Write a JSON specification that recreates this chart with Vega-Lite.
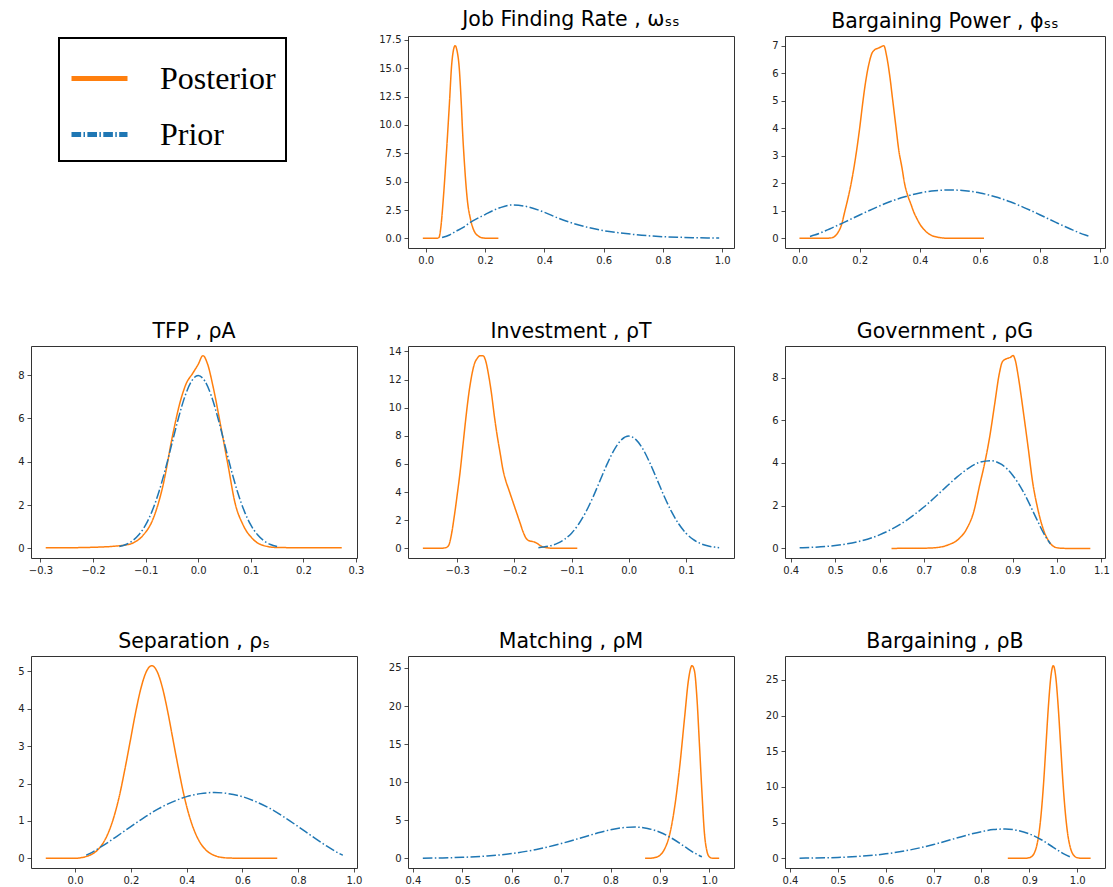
{
  "$schema": "https://vega.github.io/schema/vega-lite/v6.json",
  "padding": {"left": 17, "top": 9, "right": 5, "bottom": 2},
  "columns": 3,
  "bounds": "flush",
  "spacing": {"row": 98, "column": 51},
  "config": {
    "font": "DejaVu Sans",
    "view": {"stroke": "#333", "strokeWidth": 1},
    "title": {"font": "DejaVu Sans", "fontSize": 20.5, "fontWeight": "normal", "color": "#000", "offset": 4},
    "axis": {"domain": false, "grid": false, "tickSize": 4, "tickColor": "#222", "tickWidth": 0.8, "labelFont": "DejaVu Sans", "labelFontSize": 10, "labelColor": "#222", "labelPadding": 3, "labelFlush": false, "labelOverlap": false},
    "legend": {"orient": "none", "legendX": 28, "legendY": 2, "labelFont": "Liberation Serif", "labelFontSize": 32, "labelColor": "#000", "labelOffset": 30, "symbolType": "stroke", "symbolSize": 3136, "symbolStrokeWidth": 5, "padding": 10, "rowPadding": 9, "strokeColor": "#000", "fillColor": "#fff"}
  },
  "datasets": {
    "curves": [
      {"panel": "jfr", "series": "Posterior", "x": -0.01, "y": 0},
      {"panel": "jfr", "series": "Posterior", "x": 0.02, "y": 0},
      {"panel": "jfr", "series": "Posterior", "x": 0.04, "y": 0.02},
      {"panel": "jfr", "series": "Posterior", "x": 0.045, "y": 0.1},
      {"panel": "jfr", "series": "Posterior", "x": 0.05, "y": 0.8},
      {"panel": "jfr", "series": "Posterior", "x": 0.06, "y": 3.8},
      {"panel": "jfr", "series": "Posterior", "x": 0.07, "y": 7.7},
      {"panel": "jfr", "series": "Posterior", "x": 0.08, "y": 12},
      {"panel": "jfr", "series": "Posterior", "x": 0.087, "y": 15.2},
      {"panel": "jfr", "series": "Posterior", "x": 0.092, "y": 16.4},
      {"panel": "jfr", "series": "Posterior", "x": 0.099, "y": 17.0},
      {"panel": "jfr", "series": "Posterior", "x": 0.105, "y": 16.6},
      {"panel": "jfr", "series": "Posterior", "x": 0.113, "y": 15.0},
      {"panel": "jfr", "series": "Posterior", "x": 0.12, "y": 11.8},
      {"panel": "jfr", "series": "Posterior", "x": 0.124, "y": 9.5},
      {"panel": "jfr", "series": "Posterior", "x": 0.13, "y": 6.8},
      {"panel": "jfr", "series": "Posterior", "x": 0.141, "y": 3.2},
      {"panel": "jfr", "series": "Posterior", "x": 0.15, "y": 1.8},
      {"panel": "jfr", "series": "Posterior", "x": 0.164, "y": 0.6},
      {"panel": "jfr", "series": "Posterior", "x": 0.175, "y": 0.25},
      {"panel": "jfr", "series": "Posterior", "x": 0.186, "y": 0.08},
      {"panel": "jfr", "series": "Posterior", "x": 0.2, "y": 0.02},
      {"panel": "jfr", "series": "Posterior", "x": 0.245, "y": 0},
      {"panel": "jfr", "series": "Prior", "x": 0.055, "y": 0.08},
      {"panel": "jfr", "series": "Prior", "x": 0.08, "y": 0.3},
      {"panel": "jfr", "series": "Prior", "x": 0.1, "y": 0.6},
      {"panel": "jfr", "series": "Prior", "x": 0.125, "y": 0.95},
      {"panel": "jfr", "series": "Prior", "x": 0.15, "y": 1.4},
      {"panel": "jfr", "series": "Prior", "x": 0.2, "y": 2.1},
      {"panel": "jfr", "series": "Prior", "x": 0.25, "y": 2.7},
      {"panel": "jfr", "series": "Prior", "x": 0.29, "y": 2.95},
      {"panel": "jfr", "series": "Prior", "x": 0.35, "y": 2.75},
      {"panel": "jfr", "series": "Prior", "x": 0.4, "y": 2.3},
      {"panel": "jfr", "series": "Prior", "x": 0.45, "y": 1.75},
      {"panel": "jfr", "series": "Prior", "x": 0.5, "y": 1.3},
      {"panel": "jfr", "series": "Prior", "x": 0.55, "y": 0.95},
      {"panel": "jfr", "series": "Prior", "x": 0.6, "y": 0.68},
      {"panel": "jfr", "series": "Prior", "x": 0.65, "y": 0.5},
      {"panel": "jfr", "series": "Prior", "x": 0.7, "y": 0.35},
      {"panel": "jfr", "series": "Prior", "x": 0.75, "y": 0.23},
      {"panel": "jfr", "series": "Prior", "x": 0.8, "y": 0.15},
      {"panel": "jfr", "series": "Prior", "x": 0.85, "y": 0.1},
      {"panel": "jfr", "series": "Prior", "x": 0.9, "y": 0.06},
      {"panel": "jfr", "series": "Prior", "x": 0.95, "y": 0.04},
      {"panel": "jfr", "series": "Prior", "x": 0.99, "y": 0.03},

      {"panel": "bp", "series": "Posterior", "x": 0.0, "y": 0},
      {"panel": "bp", "series": "Posterior", "x": 0.05, "y": 0},
      {"panel": "bp", "series": "Posterior", "x": 0.1, "y": 0.01},
      {"panel": "bp", "series": "Posterior", "x": 0.11, "y": 0.03},
      {"panel": "bp", "series": "Posterior", "x": 0.12, "y": 0.1},
      {"panel": "bp", "series": "Posterior", "x": 0.13, "y": 0.25},
      {"panel": "bp", "series": "Posterior", "x": 0.14, "y": 0.5},
      {"panel": "bp", "series": "Posterior", "x": 0.15, "y": 0.95},
      {"panel": "bp", "series": "Posterior", "x": 0.16, "y": 1.4},
      {"panel": "bp", "series": "Posterior", "x": 0.17, "y": 1.9},
      {"panel": "bp", "series": "Posterior", "x": 0.18, "y": 2.5},
      {"panel": "bp", "series": "Posterior", "x": 0.19, "y": 3.2},
      {"panel": "bp", "series": "Posterior", "x": 0.2, "y": 4.0},
      {"panel": "bp", "series": "Posterior", "x": 0.21, "y": 4.9},
      {"panel": "bp", "series": "Posterior", "x": 0.22, "y": 5.7},
      {"panel": "bp", "series": "Posterior", "x": 0.23, "y": 6.3},
      {"panel": "bp", "series": "Posterior", "x": 0.24, "y": 6.7},
      {"panel": "bp", "series": "Posterior", "x": 0.25, "y": 6.85},
      {"panel": "bp", "series": "Posterior", "x": 0.26, "y": 6.9},
      {"panel": "bp", "series": "Posterior", "x": 0.27, "y": 6.95},
      {"panel": "bp", "series": "Posterior", "x": 0.28, "y": 7.0},
      {"panel": "bp", "series": "Posterior", "x": 0.29, "y": 6.6},
      {"panel": "bp", "series": "Posterior", "x": 0.3, "y": 5.9},
      {"panel": "bp", "series": "Posterior", "x": 0.31, "y": 5.0},
      {"panel": "bp", "series": "Posterior", "x": 0.32, "y": 4.1},
      {"panel": "bp", "series": "Posterior", "x": 0.33, "y": 3.2},
      {"panel": "bp", "series": "Posterior", "x": 0.34, "y": 2.6},
      {"panel": "bp", "series": "Posterior", "x": 0.35, "y": 1.95},
      {"panel": "bp", "series": "Posterior", "x": 0.36, "y": 1.55},
      {"panel": "bp", "series": "Posterior", "x": 0.37, "y": 1.25},
      {"panel": "bp", "series": "Posterior", "x": 0.38, "y": 0.95},
      {"panel": "bp", "series": "Posterior", "x": 0.39, "y": 0.72},
      {"panel": "bp", "series": "Posterior", "x": 0.4, "y": 0.52},
      {"panel": "bp", "series": "Posterior", "x": 0.42, "y": 0.25},
      {"panel": "bp", "series": "Posterior", "x": 0.44, "y": 0.1},
      {"panel": "bp", "series": "Posterior", "x": 0.46, "y": 0.04},
      {"panel": "bp", "series": "Posterior", "x": 0.48, "y": 0.01},
      {"panel": "bp", "series": "Posterior", "x": 0.5, "y": 0},
      {"panel": "bp", "series": "Posterior", "x": 0.613, "y": 0},
      {"panel": "bp", "series": "Prior", "x": 0.035, "y": 0.07},
      {"panel": "bp", "series": "Prior", "x": 0.05, "y": 0.12},
      {"panel": "bp", "series": "Prior", "x": 0.1, "y": 0.34},
      {"panel": "bp", "series": "Prior", "x": 0.15, "y": 0.59},
      {"panel": "bp", "series": "Prior", "x": 0.2, "y": 0.85},
      {"panel": "bp", "series": "Prior", "x": 0.25, "y": 1.1},
      {"panel": "bp", "series": "Prior", "x": 0.3, "y": 1.33},
      {"panel": "bp", "series": "Prior", "x": 0.35, "y": 1.51},
      {"panel": "bp", "series": "Prior", "x": 0.4, "y": 1.65},
      {"panel": "bp", "series": "Prior", "x": 0.45, "y": 1.73},
      {"panel": "bp", "series": "Prior", "x": 0.5, "y": 1.76},
      {"panel": "bp", "series": "Prior", "x": 0.55, "y": 1.73},
      {"panel": "bp", "series": "Prior", "x": 0.6, "y": 1.65},
      {"panel": "bp", "series": "Prior", "x": 0.65, "y": 1.51},
      {"panel": "bp", "series": "Prior", "x": 0.7, "y": 1.33},
      {"panel": "bp", "series": "Prior", "x": 0.75, "y": 1.1},
      {"panel": "bp", "series": "Prior", "x": 0.8, "y": 0.85},
      {"panel": "bp", "series": "Prior", "x": 0.85, "y": 0.59},
      {"panel": "bp", "series": "Prior", "x": 0.9, "y": 0.34},
      {"panel": "bp", "series": "Prior", "x": 0.95, "y": 0.12},
      {"panel": "bp", "series": "Prior", "x": 0.965, "y": 0.07},

      {"panel": "tfp", "series": "Posterior", "x": -0.29, "y": 0.03},
      {"panel": "tfp", "series": "Posterior", "x": -0.25, "y": 0.03},
      {"panel": "tfp", "series": "Posterior", "x": -0.2, "y": 0.05},
      {"panel": "tfp", "series": "Posterior", "x": -0.17, "y": 0.08},
      {"panel": "tfp", "series": "Posterior", "x": -0.15, "y": 0.12},
      {"panel": "tfp", "series": "Posterior", "x": -0.137, "y": 0.16},
      {"panel": "tfp", "series": "Posterior", "x": -0.124, "y": 0.25},
      {"panel": "tfp", "series": "Posterior", "x": -0.105, "y": 0.6},
      {"panel": "tfp", "series": "Posterior", "x": -0.086, "y": 1.35},
      {"panel": "tfp", "series": "Posterior", "x": -0.067, "y": 2.9},
      {"panel": "tfp", "series": "Posterior", "x": -0.048, "y": 5.3},
      {"panel": "tfp", "series": "Posterior", "x": -0.035, "y": 6.7},
      {"panel": "tfp", "series": "Posterior", "x": -0.023, "y": 7.6},
      {"panel": "tfp", "series": "Posterior", "x": -0.01, "y": 8.1},
      {"panel": "tfp", "series": "Posterior", "x": 0.0, "y": 8.5},
      {"panel": "tfp", "series": "Posterior", "x": 0.009, "y": 8.9},
      {"panel": "tfp", "series": "Posterior", "x": 0.018, "y": 8.5},
      {"panel": "tfp", "series": "Posterior", "x": 0.028, "y": 7.5},
      {"panel": "tfp", "series": "Posterior", "x": 0.044, "y": 5.5},
      {"panel": "tfp", "series": "Posterior", "x": 0.057, "y": 3.8},
      {"panel": "tfp", "series": "Posterior", "x": 0.07, "y": 2.1},
      {"panel": "tfp", "series": "Posterior", "x": 0.085, "y": 1.1},
      {"panel": "tfp", "series": "Posterior", "x": 0.104, "y": 0.43},
      {"panel": "tfp", "series": "Posterior", "x": 0.123, "y": 0.14},
      {"panel": "tfp", "series": "Posterior", "x": 0.149, "y": 0.04},
      {"panel": "tfp", "series": "Posterior", "x": 0.2, "y": 0.03},
      {"panel": "tfp", "series": "Posterior", "x": 0.273, "y": 0.03},
      {"panel": "tfp", "series": "Prior", "x": -0.15, "y": 0.09},
      {"panel": "tfp", "series": "Prior", "x": -0.1375, "y": 0.18},
      {"panel": "tfp", "series": "Prior", "x": -0.125, "y": 0.35},
      {"panel": "tfp", "series": "Prior", "x": -0.1125, "y": 0.64},
      {"panel": "tfp", "series": "Prior", "x": -0.1, "y": 1.08},
      {"panel": "tfp", "series": "Prior", "x": -0.0875, "y": 1.73},
      {"panel": "tfp", "series": "Prior", "x": -0.075, "y": 2.59},
      {"panel": "tfp", "series": "Prior", "x": -0.0625, "y": 3.65},
      {"panel": "tfp", "series": "Prior", "x": -0.05, "y": 4.84},
      {"panel": "tfp", "series": "Prior", "x": -0.0375, "y": 6.02},
      {"panel": "tfp", "series": "Prior", "x": -0.025, "y": 7.04},
      {"panel": "tfp", "series": "Prior", "x": -0.0125, "y": 7.73},
      {"panel": "tfp", "series": "Prior", "x": 0.0, "y": 7.98},
      {"panel": "tfp", "series": "Prior", "x": 0.0125, "y": 7.73},
      {"panel": "tfp", "series": "Prior", "x": 0.025, "y": 7.04},
      {"panel": "tfp", "series": "Prior", "x": 0.0375, "y": 6.02},
      {"panel": "tfp", "series": "Prior", "x": 0.05, "y": 4.84},
      {"panel": "tfp", "series": "Prior", "x": 0.0625, "y": 3.65},
      {"panel": "tfp", "series": "Prior", "x": 0.075, "y": 2.59},
      {"panel": "tfp", "series": "Prior", "x": 0.0875, "y": 1.73},
      {"panel": "tfp", "series": "Prior", "x": 0.1, "y": 1.08},
      {"panel": "tfp", "series": "Prior", "x": 0.1125, "y": 0.64},
      {"panel": "tfp", "series": "Prior", "x": 0.125, "y": 0.35},
      {"panel": "tfp", "series": "Prior", "x": 0.1375, "y": 0.18},
      {"panel": "tfp", "series": "Prior", "x": 0.15, "y": 0.09},

      {"panel": "inv", "series": "Posterior", "x": -0.36, "y": 0},
      {"panel": "inv", "series": "Posterior", "x": -0.33, "y": 0},
      {"panel": "inv", "series": "Posterior", "x": -0.32, "y": 0.05},
      {"panel": "inv", "series": "Posterior", "x": -0.315, "y": 0.2},
      {"panel": "inv", "series": "Posterior", "x": -0.31, "y": 1.0},
      {"panel": "inv", "series": "Posterior", "x": -0.305, "y": 2.3},
      {"panel": "inv", "series": "Posterior", "x": -0.3, "y": 3.8},
      {"panel": "inv", "series": "Posterior", "x": -0.295, "y": 5.4},
      {"panel": "inv", "series": "Posterior", "x": -0.29, "y": 7.3},
      {"panel": "inv", "series": "Posterior", "x": -0.285, "y": 9.2},
      {"panel": "inv", "series": "Posterior", "x": -0.28, "y": 10.9},
      {"panel": "inv", "series": "Posterior", "x": -0.275, "y": 12.2},
      {"panel": "inv", "series": "Posterior", "x": -0.27, "y": 13.1},
      {"panel": "inv", "series": "Posterior", "x": -0.265, "y": 13.5},
      {"panel": "inv", "series": "Posterior", "x": -0.26, "y": 13.7},
      {"panel": "inv", "series": "Posterior", "x": -0.255, "y": 13.7},
      {"panel": "inv", "series": "Posterior", "x": -0.25, "y": 13.3},
      {"panel": "inv", "series": "Posterior", "x": -0.245, "y": 12.3},
      {"panel": "inv", "series": "Posterior", "x": -0.24, "y": 11.0},
      {"panel": "inv", "series": "Posterior", "x": -0.235, "y": 9.4},
      {"panel": "inv", "series": "Posterior", "x": -0.23, "y": 8.0},
      {"panel": "inv", "series": "Posterior", "x": -0.225, "y": 6.8},
      {"panel": "inv", "series": "Posterior", "x": -0.22, "y": 5.6},
      {"panel": "inv", "series": "Posterior", "x": -0.215, "y": 4.8},
      {"panel": "inv", "series": "Posterior", "x": -0.21, "y": 4.2},
      {"panel": "inv", "series": "Posterior", "x": -0.205, "y": 3.6},
      {"panel": "inv", "series": "Posterior", "x": -0.2, "y": 3.0},
      {"panel": "inv", "series": "Posterior", "x": -0.195, "y": 2.4},
      {"panel": "inv", "series": "Posterior", "x": -0.19, "y": 1.8},
      {"panel": "inv", "series": "Posterior", "x": -0.185, "y": 1.2},
      {"panel": "inv", "series": "Posterior", "x": -0.18, "y": 0.75},
      {"panel": "inv", "series": "Posterior", "x": -0.175, "y": 0.55},
      {"panel": "inv", "series": "Posterior", "x": -0.17, "y": 0.5},
      {"panel": "inv", "series": "Posterior", "x": -0.165, "y": 0.45},
      {"panel": "inv", "series": "Posterior", "x": -0.16, "y": 0.35},
      {"panel": "inv", "series": "Posterior", "x": -0.155, "y": 0.2},
      {"panel": "inv", "series": "Posterior", "x": -0.15, "y": 0.1},
      {"panel": "inv", "series": "Posterior", "x": -0.14, "y": 0.03},
      {"panel": "inv", "series": "Posterior", "x": -0.13, "y": 0},
      {"panel": "inv", "series": "Posterior", "x": -0.09, "y": 0},
      {"panel": "inv", "series": "Prior", "x": -0.158, "y": 0.05},
      {"panel": "inv", "series": "Prior", "x": -0.15, "y": 0.09},
      {"panel": "inv", "series": "Prior", "x": -0.1375, "y": 0.18},
      {"panel": "inv", "series": "Prior", "x": -0.125, "y": 0.35},
      {"panel": "inv", "series": "Prior", "x": -0.1125, "y": 0.64},
      {"panel": "inv", "series": "Prior", "x": -0.1, "y": 1.08},
      {"panel": "inv", "series": "Prior", "x": -0.0875, "y": 1.73},
      {"panel": "inv", "series": "Prior", "x": -0.075, "y": 2.59},
      {"panel": "inv", "series": "Prior", "x": -0.0625, "y": 3.65},
      {"panel": "inv", "series": "Prior", "x": -0.05, "y": 4.84},
      {"panel": "inv", "series": "Prior", "x": -0.0375, "y": 6.02},
      {"panel": "inv", "series": "Prior", "x": -0.025, "y": 7.04},
      {"panel": "inv", "series": "Prior", "x": -0.0125, "y": 7.73},
      {"panel": "inv", "series": "Prior", "x": 0.0, "y": 7.98},
      {"panel": "inv", "series": "Prior", "x": 0.0125, "y": 7.73},
      {"panel": "inv", "series": "Prior", "x": 0.025, "y": 7.04},
      {"panel": "inv", "series": "Prior", "x": 0.0375, "y": 6.02},
      {"panel": "inv", "series": "Prior", "x": 0.05, "y": 4.84},
      {"panel": "inv", "series": "Prior", "x": 0.0625, "y": 3.65},
      {"panel": "inv", "series": "Prior", "x": 0.075, "y": 2.59},
      {"panel": "inv", "series": "Prior", "x": 0.0875, "y": 1.73},
      {"panel": "inv", "series": "Prior", "x": 0.1, "y": 1.08},
      {"panel": "inv", "series": "Prior", "x": 0.1125, "y": 0.64},
      {"panel": "inv", "series": "Prior", "x": 0.125, "y": 0.35},
      {"panel": "inv", "series": "Prior", "x": 0.1375, "y": 0.18},
      {"panel": "inv", "series": "Prior", "x": 0.15, "y": 0.09},
      {"panel": "inv", "series": "Prior", "x": 0.158, "y": 0.05},

      {"panel": "gov", "series": "Posterior", "x": 0.627, "y": 0},
      {"panel": "gov", "series": "Posterior", "x": 0.7, "y": 0.01},
      {"panel": "gov", "series": "Posterior", "x": 0.725, "y": 0.03},
      {"panel": "gov", "series": "Posterior", "x": 0.754, "y": 0.16},
      {"panel": "gov", "series": "Posterior", "x": 0.776, "y": 0.4},
      {"panel": "gov", "series": "Posterior", "x": 0.797, "y": 0.94},
      {"panel": "gov", "series": "Posterior", "x": 0.812, "y": 1.7},
      {"panel": "gov", "series": "Posterior", "x": 0.826, "y": 3.0},
      {"panel": "gov", "series": "Posterior", "x": 0.837, "y": 4.0},
      {"panel": "gov", "series": "Posterior", "x": 0.848, "y": 5.2},
      {"panel": "gov", "series": "Posterior", "x": 0.859, "y": 6.7},
      {"panel": "gov", "series": "Posterior", "x": 0.87, "y": 8.2},
      {"panel": "gov", "series": "Posterior", "x": 0.877, "y": 8.75},
      {"panel": "gov", "series": "Posterior", "x": 0.888, "y": 8.9},
      {"panel": "gov", "series": "Posterior", "x": 0.895, "y": 8.95},
      {"panel": "gov", "series": "Posterior", "x": 0.901, "y": 9.03},
      {"panel": "gov", "series": "Posterior", "x": 0.906, "y": 8.8},
      {"panel": "gov", "series": "Posterior", "x": 0.913, "y": 8.0},
      {"panel": "gov", "series": "Posterior", "x": 0.924, "y": 6.4},
      {"panel": "gov", "series": "Posterior", "x": 0.935, "y": 4.7},
      {"panel": "gov", "series": "Posterior", "x": 0.945, "y": 3.1},
      {"panel": "gov", "series": "Posterior", "x": 0.956, "y": 1.9},
      {"panel": "gov", "series": "Posterior", "x": 0.971, "y": 0.78},
      {"panel": "gov", "series": "Posterior", "x": 0.985, "y": 0.23},
      {"panel": "gov", "series": "Posterior", "x": 1.0, "y": 0.03},
      {"panel": "gov", "series": "Posterior", "x": 1.02, "y": 0},
      {"panel": "gov", "series": "Posterior", "x": 1.075, "y": 0},
      {"panel": "gov", "series": "Prior", "x": 0.42, "y": 0.026},
      {"panel": "gov", "series": "Prior", "x": 0.45, "y": 0.051},
      {"panel": "gov", "series": "Prior", "x": 0.5, "y": 0.133},
      {"panel": "gov", "series": "Prior", "x": 0.55, "y": 0.308},
      {"panel": "gov", "series": "Prior", "x": 0.6, "y": 0.634},
      {"panel": "gov", "series": "Prior", "x": 0.65, "y": 1.17},
      {"panel": "gov", "series": "Prior", "x": 0.7, "y": 1.94},
      {"panel": "gov", "series": "Prior", "x": 0.75, "y": 2.88},
      {"panel": "gov", "series": "Prior", "x": 0.775, "y": 3.35},
      {"panel": "gov", "series": "Prior", "x": 0.8, "y": 3.75},
      {"panel": "gov", "series": "Prior", "x": 0.825, "y": 4.03},
      {"panel": "gov", "series": "Prior", "x": 0.85, "y": 4.11},
      {"panel": "gov", "series": "Prior", "x": 0.875, "y": 3.93},
      {"panel": "gov", "series": "Prior", "x": 0.9, "y": 3.43},
      {"panel": "gov", "series": "Prior", "x": 0.925, "y": 2.61},
      {"panel": "gov", "series": "Prior", "x": 0.95, "y": 1.55},
      {"panel": "gov", "series": "Prior", "x": 0.97, "y": 0.7},
      {"panel": "gov", "series": "Prior", "x": 0.985, "y": 0.21},

      {"panel": "sep", "series": "Posterior", "x": -0.105, "y": 0},
      {"panel": "sep", "series": "Posterior", "x": 0.0, "y": 0.003},
      {"panel": "sep", "series": "Posterior", "x": 0.0425, "y": 0.057},
      {"panel": "sep", "series": "Posterior", "x": 0.081, "y": 0.226},
      {"panel": "sep", "series": "Posterior", "x": 0.1006, "y": 0.41},
      {"panel": "sep", "series": "Posterior", "x": 0.12, "y": 0.697},
      {"panel": "sep", "series": "Posterior", "x": 0.1394, "y": 1.11},
      {"panel": "sep", "series": "Posterior", "x": 0.159, "y": 1.67},
      {"panel": "sep", "series": "Posterior", "x": 0.1781, "y": 2.36},
      {"panel": "sep", "series": "Posterior", "x": 0.1975, "y": 3.12},
      {"panel": "sep", "series": "Posterior", "x": 0.2169, "y": 3.89},
      {"panel": "sep", "series": "Posterior", "x": 0.236, "y": 4.54},
      {"panel": "sep", "series": "Posterior", "x": 0.2556, "y": 4.99},
      {"panel": "sep", "series": "Posterior", "x": 0.275, "y": 5.15},
      {"panel": "sep", "series": "Posterior", "x": 0.2944, "y": 4.99},
      {"panel": "sep", "series": "Posterior", "x": 0.314, "y": 4.54},
      {"panel": "sep", "series": "Posterior", "x": 0.3331, "y": 3.89},
      {"panel": "sep", "series": "Posterior", "x": 0.3525, "y": 3.12},
      {"panel": "sep", "series": "Posterior", "x": 0.3719, "y": 2.36},
      {"panel": "sep", "series": "Posterior", "x": 0.391, "y": 1.67},
      {"panel": "sep", "series": "Posterior", "x": 0.4106, "y": 1.11},
      {"panel": "sep", "series": "Posterior", "x": 0.43, "y": 0.697},
      {"panel": "sep", "series": "Posterior", "x": 0.4494, "y": 0.41},
      {"panel": "sep", "series": "Posterior", "x": 0.469, "y": 0.226},
      {"panel": "sep", "series": "Posterior", "x": 0.5075, "y": 0.057},
      {"panel": "sep", "series": "Posterior", "x": 0.546, "y": 0.011},
      {"panel": "sep", "series": "Posterior", "x": 0.6, "y": 0.002},
      {"panel": "sep", "series": "Posterior", "x": 0.725, "y": 0},
      {"panel": "sep", "series": "Prior", "x": 0.04, "y": 0.084},
      {"panel": "sep", "series": "Prior", "x": 0.05, "y": 0.12},
      {"panel": "sep", "series": "Prior", "x": 0.1, "y": 0.34},
      {"panel": "sep", "series": "Prior", "x": 0.15, "y": 0.59},
      {"panel": "sep", "series": "Prior", "x": 0.2, "y": 0.85},
      {"panel": "sep", "series": "Prior", "x": 0.25, "y": 1.1},
      {"panel": "sep", "series": "Prior", "x": 0.3, "y": 1.33},
      {"panel": "sep", "series": "Prior", "x": 0.35, "y": 1.51},
      {"panel": "sep", "series": "Prior", "x": 0.4, "y": 1.65},
      {"panel": "sep", "series": "Prior", "x": 0.45, "y": 1.73},
      {"panel": "sep", "series": "Prior", "x": 0.5, "y": 1.76},
      {"panel": "sep", "series": "Prior", "x": 0.55, "y": 1.73},
      {"panel": "sep", "series": "Prior", "x": 0.6, "y": 1.65},
      {"panel": "sep", "series": "Prior", "x": 0.65, "y": 1.51},
      {"panel": "sep", "series": "Prior", "x": 0.7, "y": 1.33},
      {"panel": "sep", "series": "Prior", "x": 0.75, "y": 1.1},
      {"panel": "sep", "series": "Prior", "x": 0.8, "y": 0.85},
      {"panel": "sep", "series": "Prior", "x": 0.85, "y": 0.59},
      {"panel": "sep", "series": "Prior", "x": 0.9, "y": 0.34},
      {"panel": "sep", "series": "Prior", "x": 0.95, "y": 0.12},
      {"panel": "sep", "series": "Prior", "x": 0.96, "y": 0.084},

      {"panel": "match", "series": "Posterior", "x": 0.87, "y": 0},
      {"panel": "match", "series": "Posterior", "x": 0.88, "y": 0.02},
      {"panel": "match", "series": "Posterior", "x": 0.89, "y": 0.1},
      {"panel": "match", "series": "Posterior", "x": 0.9, "y": 0.4},
      {"panel": "match", "series": "Posterior", "x": 0.91, "y": 1.3},
      {"panel": "match", "series": "Posterior", "x": 0.92, "y": 3.2},
      {"panel": "match", "series": "Posterior", "x": 0.93, "y": 6.8},
      {"panel": "match", "series": "Posterior", "x": 0.94, "y": 12.0},
      {"panel": "match", "series": "Posterior", "x": 0.95, "y": 18.5},
      {"panel": "match", "series": "Posterior", "x": 0.958, "y": 23.5},
      {"panel": "match", "series": "Posterior", "x": 0.965, "y": 25.3},
      {"panel": "match", "series": "Posterior", "x": 0.97, "y": 24.6},
      {"panel": "match", "series": "Posterior", "x": 0.975, "y": 21.0},
      {"panel": "match", "series": "Posterior", "x": 0.98, "y": 15.0},
      {"panel": "match", "series": "Posterior", "x": 0.985, "y": 8.8},
      {"panel": "match", "series": "Posterior", "x": 0.99, "y": 3.4},
      {"panel": "match", "series": "Posterior", "x": 0.995, "y": 1.0},
      {"panel": "match", "series": "Posterior", "x": 1.0, "y": 0.2},
      {"panel": "match", "series": "Posterior", "x": 1.005, "y": 0.03},
      {"panel": "match", "series": "Posterior", "x": 1.01, "y": 0},
      {"panel": "match", "series": "Posterior", "x": 1.02, "y": 0},
      {"panel": "match", "series": "Prior", "x": 0.42, "y": 0.026},
      {"panel": "match", "series": "Prior", "x": 0.45, "y": 0.051},
      {"panel": "match", "series": "Prior", "x": 0.5, "y": 0.133},
      {"panel": "match", "series": "Prior", "x": 0.55, "y": 0.308},
      {"panel": "match", "series": "Prior", "x": 0.6, "y": 0.634},
      {"panel": "match", "series": "Prior", "x": 0.65, "y": 1.17},
      {"panel": "match", "series": "Prior", "x": 0.7, "y": 1.94},
      {"panel": "match", "series": "Prior", "x": 0.75, "y": 2.88},
      {"panel": "match", "series": "Prior", "x": 0.775, "y": 3.35},
      {"panel": "match", "series": "Prior", "x": 0.8, "y": 3.75},
      {"panel": "match", "series": "Prior", "x": 0.825, "y": 4.03},
      {"panel": "match", "series": "Prior", "x": 0.85, "y": 4.11},
      {"panel": "match", "series": "Prior", "x": 0.875, "y": 3.93},
      {"panel": "match", "series": "Prior", "x": 0.9, "y": 3.43},
      {"panel": "match", "series": "Prior", "x": 0.925, "y": 2.61},
      {"panel": "match", "series": "Prior", "x": 0.95, "y": 1.55},
      {"panel": "match", "series": "Prior", "x": 0.97, "y": 0.7},
      {"panel": "match", "series": "Prior", "x": 0.985, "y": 0.21},

      {"panel": "barg", "series": "Posterior", "x": 0.855, "y": 0},
      {"panel": "barg", "series": "Posterior", "x": 0.88, "y": 0},
      {"panel": "barg", "series": "Posterior", "x": 0.89, "y": 0.01},
      {"panel": "barg", "series": "Posterior", "x": 0.9, "y": 0.09},
      {"panel": "barg", "series": "Posterior", "x": 0.905, "y": 0.27},
      {"panel": "barg", "series": "Posterior", "x": 0.91, "y": 0.7},
      {"panel": "barg", "series": "Posterior", "x": 0.915, "y": 1.66},
      {"panel": "barg", "series": "Posterior", "x": 0.92, "y": 3.47},
      {"panel": "barg", "series": "Posterior", "x": 0.925, "y": 6.5},
      {"panel": "barg", "series": "Posterior", "x": 0.93, "y": 10.8},
      {"panel": "barg", "series": "Posterior", "x": 0.935, "y": 16.2},
      {"panel": "barg", "series": "Posterior", "x": 0.94, "y": 21.5},
      {"panel": "barg", "series": "Posterior", "x": 0.945, "y": 25.5},
      {"panel": "barg", "series": "Posterior", "x": 0.95, "y": 27.0},
      {"panel": "barg", "series": "Posterior", "x": 0.955, "y": 25.5},
      {"panel": "barg", "series": "Posterior", "x": 0.96, "y": 21.5},
      {"panel": "barg", "series": "Posterior", "x": 0.965, "y": 16.2},
      {"panel": "barg", "series": "Posterior", "x": 0.97, "y": 10.8},
      {"panel": "barg", "series": "Posterior", "x": 0.975, "y": 6.5},
      {"panel": "barg", "series": "Posterior", "x": 0.98, "y": 3.47},
      {"panel": "barg", "series": "Posterior", "x": 0.985, "y": 1.66},
      {"panel": "barg", "series": "Posterior", "x": 0.99, "y": 0.7},
      {"panel": "barg", "series": "Posterior", "x": 0.995, "y": 0.27},
      {"panel": "barg", "series": "Posterior", "x": 1.0, "y": 0.09},
      {"panel": "barg", "series": "Posterior", "x": 1.01, "y": 0.01},
      {"panel": "barg", "series": "Posterior", "x": 1.028, "y": 0},
      {"panel": "barg", "series": "Prior", "x": 0.42, "y": 0.026},
      {"panel": "barg", "series": "Prior", "x": 0.45, "y": 0.051},
      {"panel": "barg", "series": "Prior", "x": 0.5, "y": 0.133},
      {"panel": "barg", "series": "Prior", "x": 0.55, "y": 0.308},
      {"panel": "barg", "series": "Prior", "x": 0.6, "y": 0.634},
      {"panel": "barg", "series": "Prior", "x": 0.65, "y": 1.17},
      {"panel": "barg", "series": "Prior", "x": 0.7, "y": 1.94},
      {"panel": "barg", "series": "Prior", "x": 0.75, "y": 2.88},
      {"panel": "barg", "series": "Prior", "x": 0.775, "y": 3.35},
      {"panel": "barg", "series": "Prior", "x": 0.8, "y": 3.75},
      {"panel": "barg", "series": "Prior", "x": 0.825, "y": 4.03},
      {"panel": "barg", "series": "Prior", "x": 0.85, "y": 4.11},
      {"panel": "barg", "series": "Prior", "x": 0.875, "y": 3.93},
      {"panel": "barg", "series": "Prior", "x": 0.9, "y": 3.43},
      {"panel": "barg", "series": "Prior", "x": 0.925, "y": 2.61},
      {"panel": "barg", "series": "Prior", "x": 0.95, "y": 1.55},
      {"panel": "barg", "series": "Prior", "x": 0.97, "y": 0.7},
      {"panel": "barg", "series": "Prior", "x": 0.985, "y": 0.21}
    ]
  },
  "concat": [
    {
      "width": 326, "height": 212,
      "view": {"stroke": null},
      "data": {"name": "curves"},
      "transform": [{"filter": "datum.panel === 'none'"}],
      "mark": {"type": "point", "opacity": 0},
      "encoding": {}
    },
    {
      "title": "Job Finding Rate , ωₛₛ",
      "width": 326, "height": 212,
      "data": {"name": "curves"},
      "transform": [{"filter": "datum.panel === 'jfr'"}],
      "mark": {"type": "line", "strokeWidth": 1.5, "interpolate": "monotone"},
      "encoding": {
        "x": {"field": "x", "type": "quantitative", "title": null, "scale": {"domain": [-0.06, 1.04], "nice": false, "zero": false}, "axis": {"values": [0, 0.2, 0.4, 0.6, 0.8, 1.0], "format": ".1f"}},
        "y": {"field": "y", "type": "quantitative", "title": null, "scale": {"domain": [-0.85, 17.85], "nice": false, "zero": false}, "axis": {"values": [0, 2.5, 5, 7.5, 10, 12.5, 15, 17.5], "format": ".1f"}},
        "color": {"field": "series", "type": "nominal", "title": null, "scale": {"domain": ["Posterior", "Prior"], "range": ["#ff7f0e", "#1f77b4"]},
          "legend": {"encoding": {"symbols": {"stroke": {"value": {"expr": "datum.value === 'Posterior' ? '#ED7D31' : '#4472C4'"}}, "strokeDash": {"value": {"expr": "datum.value === 'Posterior' ? [1, 0] : [17, 13, 6, 13]"}}, "strokeWidth": {"value": 5}}, "legend": {"strokeWidth": {"value": 2}}}}},
        "strokeDash": {"field": "series", "type": "nominal", "title": null, "scale": {"domain": ["Posterior", "Prior"], "range": [[1, 0], [9.6, 2.4, 1.5, 2.4]]},
          "legend": {"encoding": {"symbols": {"stroke": {"value": {"expr": "datum.value === 'Posterior' ? '#ED7D31' : '#4472C4'"}}, "strokeDash": {"value": {"expr": "datum.value === 'Posterior' ? [1, 0] : [17, 13, 6, 13]"}}, "strokeWidth": {"value": 5}}, "legend": {"strokeWidth": {"value": 2}}}}}
      }
    },
    {
      "title": "Bargaining Power , ϕₛₛ",
      "width": 320, "height": 212,
      "data": {"name": "curves"},
      "transform": [{"filter": "datum.panel === 'bp'"}],
      "mark": {"type": "line", "strokeWidth": 1.5, "interpolate": "monotone"},
      "encoding": {
        "x": {"field": "x", "type": "quantitative", "title": null, "scale": {"domain": [-0.048, 1.015], "nice": false, "zero": false}, "axis": {"values": [0, 0.2, 0.4, 0.6, 0.8, 1.0], "format": ".1f"}},
        "y": {"field": "y", "type": "quantitative", "title": null, "scale": {"domain": [-0.35, 7.35], "nice": false, "zero": false}, "axis": {"values": [0, 1, 2, 3, 4, 5, 6, 7], "format": "d"}},
        "color": {"field": "series", "type": "nominal", "title": null, "scale": {"domain": ["Posterior", "Prior"], "range": ["#ff7f0e", "#1f77b4"]}},
        "strokeDash": {"field": "series", "type": "nominal", "title": null, "scale": {"domain": ["Posterior", "Prior"], "range": [[1, 0], [9.6, 2.4, 1.5, 2.4]]}}
      }
    },
    {
      "title": "TFP , ρA",
      "width": 326, "height": 212,
      "data": {"name": "curves"},
      "transform": [{"filter": "datum.panel === 'tfp'"}],
      "mark": {"type": "line", "strokeWidth": 1.5, "interpolate": "monotone"},
      "encoding": {
        "x": {"field": "x", "type": "quantitative", "title": null, "scale": {"domain": [-0.318, 0.302], "nice": false, "zero": false}, "axis": {"values": [-0.3, -0.2, -0.1, 0, 0.1, 0.2, 0.3], "format": ".1f"}},
        "y": {"field": "y", "type": "quantitative", "title": null, "scale": {"domain": [-0.445, 9.345], "nice": false, "zero": false}, "axis": {"values": [0, 2, 4, 6, 8], "format": "d"}},
        "color": {"field": "series", "type": "nominal", "title": null, "scale": {"domain": ["Posterior", "Prior"], "range": ["#ff7f0e", "#1f77b4"]}},
        "strokeDash": {"field": "series", "type": "nominal", "title": null, "scale": {"domain": ["Posterior", "Prior"], "range": [[1, 0], [9.6, 2.4, 1.5, 2.4]]}}
      }
    },
    {
      "title": "Investment , ρT",
      "width": 326, "height": 212,
      "data": {"name": "curves"},
      "transform": [{"filter": "datum.panel === 'inv'"}],
      "mark": {"type": "line", "strokeWidth": 1.5, "interpolate": "monotone"},
      "encoding": {
        "x": {"field": "x", "type": "quantitative", "title": null, "scale": {"domain": [-0.386, 0.184], "nice": false, "zero": false}, "axis": {"values": [-0.3, -0.2, -0.1, 0, 0.1], "format": ".1f"}},
        "y": {"field": "y", "type": "quantitative", "title": null, "scale": {"domain": [-0.685, 14.385], "nice": false, "zero": false}, "axis": {"values": [0, 2, 4, 6, 8, 10, 12, 14], "format": "d"}},
        "color": {"field": "series", "type": "nominal", "title": null, "scale": {"domain": ["Posterior", "Prior"], "range": ["#ff7f0e", "#1f77b4"]}},
        "strokeDash": {"field": "series", "type": "nominal", "title": null, "scale": {"domain": ["Posterior", "Prior"], "range": [[1, 0], [9.6, 2.4, 1.5, 2.4]]}}
      }
    },
    {
      "title": "Government , ρG",
      "width": 320, "height": 212,
      "data": {"name": "curves"},
      "transform": [{"filter": "datum.panel === 'gov'"}],
      "mark": {"type": "line", "strokeWidth": 1.5, "interpolate": "monotone"},
      "encoding": {
        "x": {"field": "x", "type": "quantitative", "title": null, "scale": {"domain": [0.387, 1.108], "nice": false, "zero": false}, "axis": {"values": [0.4, 0.5, 0.6, 0.7, 0.8, 0.9, 1.0, 1.1], "format": ".1f"}},
        "y": {"field": "y", "type": "quantitative", "title": null, "scale": {"domain": [-0.45, 9.48], "nice": false, "zero": false}, "axis": {"values": [0, 2, 4, 6, 8], "format": "d"}},
        "color": {"field": "series", "type": "nominal", "title": null, "scale": {"domain": ["Posterior", "Prior"], "range": ["#ff7f0e", "#1f77b4"]}},
        "strokeDash": {"field": "series", "type": "nominal", "title": null, "scale": {"domain": ["Posterior", "Prior"], "range": [[1, 0], [9.6, 2.4, 1.5, 2.4]]}}
      }
    },
    {
      "title": "Separation , ρₛ",
      "width": 326, "height": 212,
      "data": {"name": "curves"},
      "transform": [{"filter": "datum.panel === 'sep'"}],
      "mark": {"type": "line", "strokeWidth": 1.5, "interpolate": "monotone"},
      "encoding": {
        "x": {"field": "x", "type": "quantitative", "title": null, "scale": {"domain": [-0.158, 1.011], "nice": false, "zero": false}, "axis": {"values": [0, 0.2, 0.4, 0.6, 0.8, 1.0], "format": ".1f"}},
        "y": {"field": "y", "type": "quantitative", "title": null, "scale": {"domain": [-0.2575, 5.4075], "nice": false, "zero": false}, "axis": {"values": [0, 1, 2, 3, 4, 5], "format": "d"}},
        "color": {"field": "series", "type": "nominal", "title": null, "scale": {"domain": ["Posterior", "Prior"], "range": ["#ff7f0e", "#1f77b4"]}},
        "strokeDash": {"field": "series", "type": "nominal", "title": null, "scale": {"domain": ["Posterior", "Prior"], "range": [[1, 0], [9.6, 2.4, 1.5, 2.4]]}}
      }
    },
    {
      "title": "Matching , ρM",
      "width": 326, "height": 212,
      "data": {"name": "curves"},
      "transform": [{"filter": "datum.panel === 'match'"}],
      "mark": {"type": "line", "strokeWidth": 1.5, "interpolate": "monotone"},
      "encoding": {
        "x": {"field": "x", "type": "quantitative", "title": null, "scale": {"domain": [0.39, 1.05], "nice": false, "zero": false}, "axis": {"values": [0.4, 0.5, 0.6, 0.7, 0.8, 0.9, 1.0], "format": ".1f"}},
        "y": {"field": "y", "type": "quantitative", "title": null, "scale": {"domain": [-1.265, 26.565], "nice": false, "zero": false}, "axis": {"values": [0, 5, 10, 15, 20, 25], "format": "d"}},
        "color": {"field": "series", "type": "nominal", "title": null, "scale": {"domain": ["Posterior", "Prior"], "range": ["#ff7f0e", "#1f77b4"]}},
        "strokeDash": {"field": "series", "type": "nominal", "title": null, "scale": {"domain": ["Posterior", "Prior"], "range": [[1, 0], [9.6, 2.4, 1.5, 2.4]]}}
      }
    },
    {
      "title": "Bargaining , ρB",
      "width": 320, "height": 212,
      "data": {"name": "curves"},
      "transform": [{"filter": "datum.panel === 'barg'"}],
      "mark": {"type": "line", "strokeWidth": 1.5, "interpolate": "monotone"},
      "encoding": {
        "x": {"field": "x", "type": "quantitative", "title": null, "scale": {"domain": [0.3896, 1.058], "nice": false, "zero": false}, "axis": {"values": [0.4, 0.5, 0.6, 0.7, 0.8, 0.9, 1.0], "format": ".1f"}},
        "y": {"field": "y", "type": "quantitative", "title": null, "scale": {"domain": [-1.35, 28.35], "nice": false, "zero": false}, "axis": {"values": [0, 5, 10, 15, 20, 25], "format": "d"}},
        "color": {"field": "series", "type": "nominal", "title": null, "scale": {"domain": ["Posterior", "Prior"], "range": ["#ff7f0e", "#1f77b4"]}},
        "strokeDash": {"field": "series", "type": "nominal", "title": null, "scale": {"domain": ["Posterior", "Prior"], "range": [[1, 0], [9.6, 2.4, 1.5, 2.4]]}}
      }
    }
  ]
}
